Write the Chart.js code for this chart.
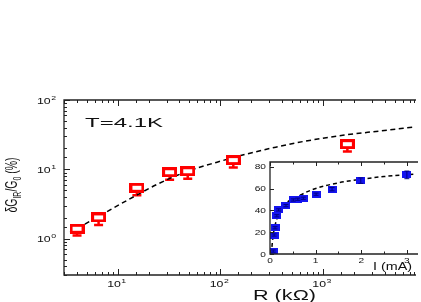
<!DOCTYPE html>
<html>
<head>
<meta charset="utf-8">
<script src="https://cdn.jsdelivr.net/npm/chart.js@4.4.1/dist/chart.umd.min.js"></script>
<style>
  html, body { margin: 0; padding: 0; background: #fff; }
  #wrap { position: relative; width: 421px; height: 302px; overflow: hidden; }
  #main { position: absolute; left: 0; top: 0; }
  #inset { position: absolute; left: 245px; top: 152px; }
</style>
</head>
<body>
<div id="wrap">
  <canvas id="main" width="421" height="302"></canvas>
  <canvas id="inset" width="176" height="125"></canvas>
</div>
<script>
// main panel: dG_IR/G0 (%) vs R (kOhm)
const resistance = [4.02, 6.52, 15.4, 32.1, 48.2, 134, 1733];
const dGratio    = [1.39, 2.03, 5.43, 9.1, 9.4, 13.6, 23.1];
const dGerrLow   = [0.28, 0.45, 1.2, 2.0, 2.1, 3.0, 5.0];
const fitR = [3.44, 6.66, 12.9, 24.9, 48.1, 93.1, 180, 348, 673, 1622, 3500, 7730];
const fitG = [1.23, 2.14, 3.70, 6.20, 9.40, 12.7, 16.6, 20.9, 25.5, 31.2, 35.6, 40.7];

// inset: dG_IR/G0 (%) vs I (mA)
const current  = [0.07, 0.09, 0.11, 0.15, 0.19, 0.35, 0.51, 0.61, 0.73, 1.01, 1.36, 1.99, 3.0];
const insetG   = [2.7, 17.4, 24, 35, 40.4, 44.3, 49.5, 50.2, 51.1, 54.8, 59.4, 67.2, 72.5];
const insetErr = [1, 1, 1, 1, 1, 1, 1, 1, 1, 1, 1.5, 2.5, 3.5];
const fitI  = [0.03, 0.05, 0.08, 0.15, 0.32, 0.6, 0.95, 1.5, 2.0, 2.5, 3.2];
const fitIG = [0, 10, 20, 32, 45, 52.5, 59.3, 65.2, 68.5, 71, 73.3];

const FONT = '"Liberation Sans", Arial, sans-serif';
const AXIS = '#222';

function isDecade(v) {
    const l = Math.log10(v);
    return Math.abs(l - Math.round(l)) < 1e-6;
}

// text stretched horizontally (the original figure is wide)
function stretchText(ctx, text, x, y, size, sx, align) {
    ctx.save();
    ctx.font = size + "px " + FONT;
    ctx.textAlign = align || "left";
    ctx.textBaseline = "alphabetic";
    ctx.translate(x, y);
    ctx.scale(sx, 1);
    ctx.fillText(text, 0, 0);
    ctx.restore();
}

function textWidth(ctx, text, size) {
    ctx.font = size + "px " + FONT;
    return ctx.measureText(text).width;
}

function powLabel(ctx, exp, x, y, align) {
    const sx = 1.45;
    const wb = textWidth(ctx, "10", 8.5) * sx;
    const we = textWidth(ctx, String(exp), 6) * sx;
    const w = wb + we + 0.5;
    const x0 = align === "right" ? x - w : x - w / 2;
    stretchText(ctx, "10", x0, y, 8.5, sx);
    stretchText(ctx, String(exp), x0 + wb + 0.5, y - 4, 6, sx);
}

function makeBox(w, h, fill, stroke, lw) {
    const c = document.createElement("canvas");
    c.width = w; c.height = h;
    const g = c.getContext("2d");
    g.fillStyle = fill;
    g.fillRect(0, 0, w, h);
    if (stroke) {
        g.strokeStyle = stroke;
        g.lineWidth = lw;
        g.strokeRect(lw / 2, lw / 2, w - lw, h - lw);
    }
    return c;
}

// lower error bars of the red points
const redErrorBars = {
    id: "redErrorBars",
    beforeDatasetsDraw(chart) {
        const ctx = chart.ctx;
        const y = chart.scales.y;
        const meta = chart.getDatasetMeta(0);
        ctx.save();
        ctx.strokeStyle = "#ff0000";
        ctx.lineWidth = 2.5;
        meta.data.forEach((pt, i) => {
            const low = y.getPixelForValue(dGratio[i] - dGerrLow[i]);
            ctx.beginPath();
            ctx.moveTo(pt.x, pt.y);
            ctx.lineTo(pt.x, low);
            ctx.moveTo(pt.x - 4.5, low);
            ctx.lineTo(pt.x + 4.5, low);
            ctx.stroke();
        });
        ctx.restore();
    }
};

const mainFrame = {
    id: "mainFrame",
    afterDraw(chart) {
        const ctx = chart.ctx;
        const ca = chart.chartArea;
        const x = chart.scales.x, y = chart.scales.y;
        ctx.save();
        ctx.strokeStyle = AXIS;
        ctx.lineWidth = 1.3;
        ctx.beginPath();
        ctx.moveTo(ca.right + 2, ca.top);
        ctx.lineTo(ca.left, ca.top);
        ctx.lineTo(ca.left, ca.bottom);
        ctx.lineTo(ca.right + 2, ca.bottom);
        ctx.stroke();

        ctx.lineWidth = 1;
        ctx.beginPath();
        x.ticks.forEach(t => {
            const px = Math.round(x.getPixelForValue(t.value)) + 0.5;
            const L = isDecade(t.value) ? 6 : 3;
            ctx.moveTo(px, ca.bottom); ctx.lineTo(px, ca.bottom - L);
            ctx.moveTo(px, ca.top); ctx.lineTo(px, ca.top + L);
        });
        y.ticks.forEach(t => {
            const py = Math.round(y.getPixelForValue(t.value)) + 0.5;
            const L = isDecade(t.value) ? 6 : 3;
            ctx.moveTo(ca.left, py); ctx.lineTo(ca.left + L, py);
        });
        ctx.stroke();

        ctx.fillStyle = "#111";
        x.ticks.filter(t => isDecade(t.value)).forEach(t => {
            const px = x.getPixelForValue(t.value);
            powLabel(ctx, Math.round(Math.log10(t.value)), px - 1, 287, "center");
        });
        y.ticks.filter(t => isDecade(t.value)).forEach(t => {
            const py = y.getPixelForValue(t.value);
            powLabel(ctx, Math.round(Math.log10(t.value)), 56, py + 3.5, "right");
        });

        // axis titles
        const rt = "R (k\u03A9)";
        stretchText(ctx, rt, 253, 300, 14, 63 / textWidth(ctx, rt, 14));
        const tt = "T=4.1K";
        stretchText(ctx, tt, 85, 127, 12.5, 78 / textWidth(ctx, tt, 12.5));

        // rotated y title: dG_IR/G_0 (%)
        const parts = [["\u03B4G", 10.5, 0], ["IR", 7, 3], ["/G", 10.5, 0], ["0", 7, 3], [" (%)", 10.5, 0]];
        let total = 0;
        parts.forEach(p => { total += textWidth(ctx, p[0], p[1]); });
        ctx.save();
        ctx.translate(16.5, 185);
        ctx.rotate(-Math.PI / 2);
        ctx.scale(1, 1.6);
        let cx = -total / 2;
        parts.forEach(p => {
            ctx.font = p[1] + "px " + FONT;
            ctx.textBaseline = "alphabetic";
            ctx.textAlign = "left";
            ctx.fillText(p[0], cx, p[2]);
            cx += textWidth(ctx, p[0], p[1]);
        });
        ctx.restore();
        ctx.restore();
    }
};

new Chart(document.getElementById("main"), {
    type: "scatter",
    data: {
        datasets: [
            {
                data: resistance.map((r, i) => ({ x: r, y: dGratio[i] })),
                pointStyle: makeBox(15, 10, "#fff", "#ff0000", 3),
                pointRadius: 6,
                showLine: false
            },
            {
                data: fitR.map((r, i) => ({ x: r, y: fitG[i] })),
                showLine: true,
                pointRadius: 0,
                borderColor: "#000",
                borderWidth: 1.5,
                borderDash: [5, 3.5],
                cubicInterpolationMode: "monotone"
            }
        ]
    },
    options: {
        responsive: false,
        animation: false,
        devicePixelRatio: 1,
        layout: { padding: { top: 100, left: 0, right: 0, bottom: 0 } },
        plugins: { legend: { display: false }, tooltip: { enabled: false } },
        scales: {
            x: {
                type: "logarithmic", min: 3, max: 7730,
                grid: { display: false }, border: { display: false },
                ticks: { display: false },
                afterFit: s => { s.height = 27; }
            },
            y: {
                type: "logarithmic", min: 0.3, max: 100,
                grid: { display: false }, border: { display: false },
                ticks: { display: false },
                afterFit: s => { s.width = 64; }
            }
        }
    },
    plugins: [redErrorBars, mainFrame]
});

// inset
const insetErrorBars = {
    id: "insetErrorBars",
    afterDatasetsDraw(chart) {
        const ctx = chart.ctx;
        const y = chart.scales.y;
        const meta = chart.getDatasetMeta(0);
        ctx.save();
        ctx.strokeStyle = "#000080";
        ctx.lineWidth = 1;
        meta.data.forEach((pt, i) => {
            const hi = y.getPixelForValue(insetG[i] + insetErr[i]);
            const lo = y.getPixelForValue(insetG[i] - insetErr[i]);
            ctx.beginPath();
            ctx.moveTo(pt.x, hi); ctx.lineTo(pt.x, lo);
            ctx.moveTo(pt.x - 2.5, hi); ctx.lineTo(pt.x + 2.5, hi);
            ctx.moveTo(pt.x - 2.5, lo); ctx.lineTo(pt.x + 2.5, lo);
            ctx.stroke();
        });
        ctx.restore();
    }
};

const insetFrame = {
    id: "insetFrame",
    afterDraw(chart) {
        const ctx = chart.ctx;
        const ca = chart.chartArea;
        const x = chart.scales.x, y = chart.scales.y;
        ctx.save();
        ctx.strokeStyle = AXIS;
        ctx.lineWidth = 1.3;
        ctx.beginPath();
        ctx.moveTo(ca.right + 2, ca.top);
        ctx.lineTo(ca.left, ca.top);
        ctx.lineTo(ca.left, ca.bottom);
        ctx.lineTo(ca.right + 2, ca.bottom);
        ctx.stroke();

        ctx.lineWidth = 1;
        ctx.beginPath();
        x.ticks.forEach(t => {
            const px = Math.round(x.getPixelForValue(t.value)) + 0.5;
            const L = Number.isInteger(t.value) ? 4 : 2.5;
            ctx.moveTo(px, ca.bottom); ctx.lineTo(px, ca.bottom - L);
            ctx.moveTo(px, ca.top); ctx.lineTo(px, ca.top + L);
        });
        y.ticks.forEach(t => {
            const py = Math.round(y.getPixelForValue(t.value)) + 0.5;
            ctx.moveTo(ca.left, py); ctx.lineTo(ca.left + 4, py);
        });
        ctx.stroke();

        ctx.fillStyle = "#111";
        x.ticks.filter(t => Number.isInteger(t.value)).forEach(t => {
            stretchText(ctx, String(t.value), x.getPixelForValue(t.value), ca.bottom + 8.5, 7.5, 1.35, "center");
        });
        y.ticks.forEach(t => {
            stretchText(ctx, String(t.value), ca.left - 4, y.getPixelForValue(t.value) + 2.7, 7.5, 1.35, "right");
        });
        const it = "I (mA)";
        stretchText(ctx, it, 128, ca.bottom + 16, 11, 39 / textWidth(ctx, it, 11));
        ctx.restore();
    }
};

new Chart(document.getElementById("inset"), {
    type: "scatter",
    data: {
        datasets: [
            {
                data: current.map((c, i) => ({ x: c, y: insetG[i] })),
                pointStyle: makeBox(9, 7, "#1414f0"),
                pointRadius: 4,
                showLine: false
            },
            {
                data: fitI.map((c, i) => ({ x: c, y: fitIG[i] })),
                showLine: true,
                pointRadius: 0,
                borderColor: "#000",
                borderWidth: 1.5,
                borderDash: [4, 3],
                cubicInterpolationMode: "monotone"
            }
        ]
    },
    options: {
        responsive: false,
        animation: false,
        devicePixelRatio: 1,
        layout: { padding: { top: 10, left: 0, right: 0, bottom: 0 } },
        plugins: { legend: { display: false }, tooltip: { enabled: false } },
        scales: {
            x: {
                type: "linear", min: 0, max: 3.2,
                grid: { display: false }, border: { display: false },
                ticks: { display: false, stepSize: 0.5, includeBounds: false },
                afterFit: s => { s.height = 23; }
            },
            y: {
                type: "linear", min: 0, max: 84.3,
                grid: { display: false }, border: { display: false },
                ticks: { display: false, stepSize: 20, includeBounds: false },
                afterFit: s => { s.width = 25; }
            }
        }
    },
    plugins: [insetErrorBars, insetFrame]
});
</script>
</body>
</html>
